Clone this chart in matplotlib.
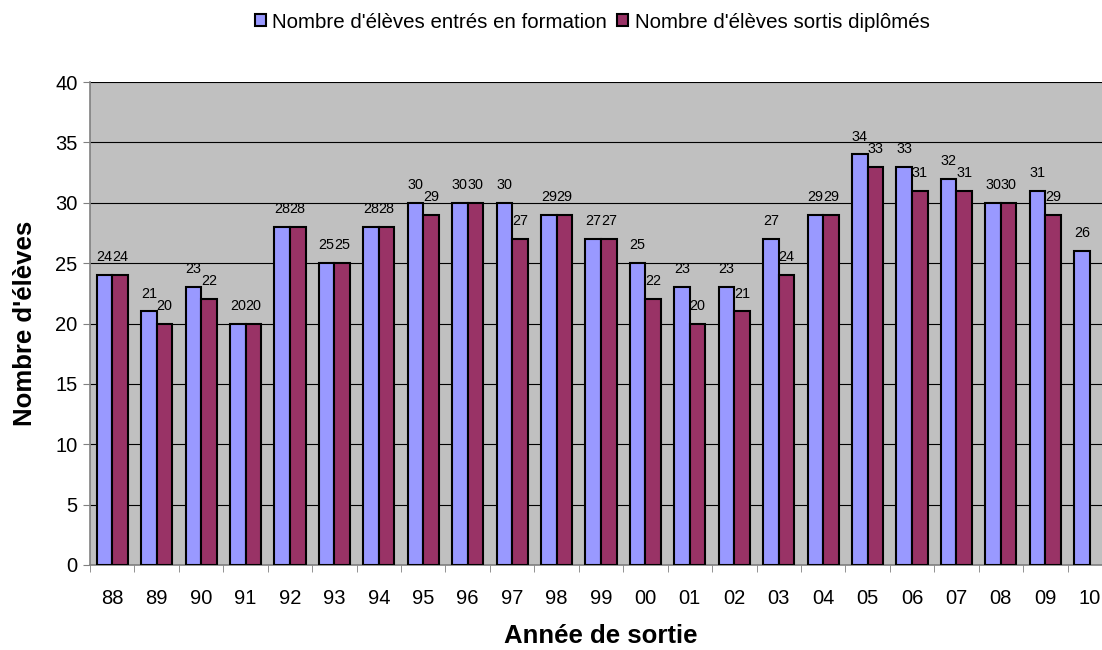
import numpy as np
import matplotlib
matplotlib.use("Agg")
import matplotlib.pyplot as plt

plt.rcParams['font.family'] = ['Liberation Sans', 'DejaVu Sans']

years = ["88", "89", "90", "91", "92", "93", "94", "95", "96", "97", "98", "99",
         "00", "01", "02", "03", "04", "05", "06", "07", "08", "09", "10"]
entres = [24, 21, 23, 20, 28, 25, 28, 30, 30, 30, 29, 27,
          25, 23, 23, 27, 29, 34, 33, 32, 30, 31, 26]
diplomes = [24, 20, 22, 20, 28, 25, 28, 29, 30, 27, 29, 27,
            22, 20, 21, 24, 29, 33, 31, 31, 30, 29, None]

label_entres = "Nombre d'élèves entrés en formation"
label_diplomes = "Nombre d'élèves sortis diplômés"

fig = plt.figure(figsize=(11.02, 6.5), dpi=100)
ax = fig.add_axes([90/1102, 85/650, 1022/1102, 483/650])
ax.set_facecolor('#C0C0C0')

x = np.arange(len(years))
w = 0.35
d_vals = np.array([np.nan if v is None else v for v in diplomes], dtype=float)

b1 = ax.bar(x - w/2, entres, w, color='#9999FF', edgecolor='black', linewidth=1.5,
            label=label_entres, zorder=3)
b2 = ax.bar(x + w/2, d_vals, w, color='#993366', edgecolor='black', linewidth=1.5,
            label=label_diplomes, zorder=3)

for xi, v in zip(x - w/2, entres):
    ax.annotate(str(v), (xi, v), xytext=(0, 10), textcoords='offset points',
                ha='center', va='baseline', fontsize=10.4)
for xi, v in zip(x + w/2, diplomes):
    if v is not None:
        ax.annotate(str(v), (xi, v), xytext=(0, 10), textcoords='offset points',
                    ha='center', va='baseline', fontsize=10.4)

ax.set_ylim(0, 40)
ax.set_xlim(-0.5, len(years) - 0.5)
ax.set_yticks(range(0, 41, 5))
ax.yaxis.grid(True, color='black', linewidth=0.8, zorder=1)
ax.set_axisbelow(True)
ax.set_xticks(x)
ax.set_xticklabels(years)
ax.set_xticks(np.arange(-0.5, len(years), 1), minor=True)
ax.tick_params(axis='x', which='major', length=0, labelsize=14.5, pad=17)
ax.tick_params(axis='x', which='minor', length=5, color='#808080')
ax.tick_params(axis='y', length=5, labelsize=14.5, color='#808080', pad=4)

for s in ['top', 'right']:
    ax.spines[s].set_visible(False)
ax.spines['left'].set_color('#808080')
ax.spines['bottom'].set_color('#808080')
ax.spines['left'].set_linewidth(1.2)
ax.spines['bottom'].set_linewidth(1.2)

ax.set_ylabel("Nombre d'élèves", fontsize=18.5, fontweight='bold', labelpad=13)
ax.set_xlabel("Année de sortie", fontsize=18.5, fontweight='bold', labelpad=12)

fig.legend(handles=[b1, b2], loc='center', bbox_to_anchor=(592/1102, 1 - 22/650),
           ncol=2, frameon=False, fontsize=14.8, handlelength=0.55, handleheight=0.55,
           handletextpad=0.3, columnspacing=0.5)

fig.savefig('out.png', dpi=100)
